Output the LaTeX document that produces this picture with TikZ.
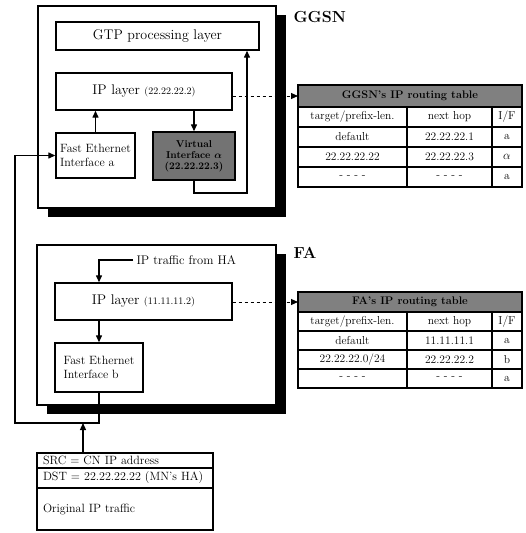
\documentclass[tikz,border=0pt]{standalone}
\usepackage{amsmath,amssymb}
\usepackage{xcolor}
\usetikzlibrary{positioning, arrows.meta, calc, shadows}

\begin{document}
\begin{tikzpicture}[x=1pt, y=-1pt,
    every node/.style={font=\fontsize{12.5}{14}\selectfont},
    frame/.style={rectangle, draw, line width=1.5pt, fill=white,
        drop shadow={shadow xshift=10pt, shadow yshift=-9pt, fill=black, opacity=1}},
    layer/.style={rectangle, draw, line width=1.4pt, fill=white, align=center, inner sep=2pt, font=\fontsize{14}{16}\selectfont},
    iface/.style={layer, align=left, font=\fontsize{12}{13.5}\selectfont},
    virt/.style={layer, fill=black!55, font=\bfseries\fontsize{10}{11}\selectfont},
    tag/.style={font=\bfseries\fontsize{16}{18}\selectfont, anchor=west},
    cell/.style={rectangle, draw, line width=1.2pt, outer sep=0pt, inner sep=1pt, minimum height=20pt, font=\fontsize{11.5}{13}\selectfont},
    thead/.style={cell, fill=black!50, minimum width=224pt, minimum height=22pt, font=\bfseries\fontsize{11}{13}\selectfont},
    colA/.style={cell, minimum width=109pt},
    colB/.style={cell, minimum width=85pt},
    colC/.style={cell, minimum width=30pt},
    pcell/.style={cell, minimum width=176pt, text width=164pt, inner xsep=6pt, align=left, font=\fontsize{12}{13}\selectfont},
    arr/.style={-{Triangle[length=7pt, width=6pt]}, line width=1.3pt},
    tablearr/.style={-{Triangle[length=7pt, width=6pt]}, dashed, line width=1pt},
]
\useasboundingbox (0,0) rectangle (525,533);

% GGSN box
\node[frame, minimum width=238pt, minimum height=202pt] (gframe) at (157,107) {};
\node[tag] (glabel) at (290,17) {GGSN};
\node[layer, minimum width=203pt, minimum height=28pt] (gtp) at (157.5,36) {GTP processing layer};
\node[layer, minimum width=176pt, minimum height=37pt] (gip) at (144,91.5) {IP layer {\fontsize{10}{12}\selectfont(22.22.22.2)}};
\node[iface, minimum width=79pt, minimum height=45pt] (gfe) at (95.5,155.5) {Fast Ethernet\\Interface a};
\node[virt, minimum width=82pt, minimum height=48pt] (gvi) at (194,156) {Virtual\\Interface $\boldsymbol{\alpha}$\\(22.22.22.3)};

% FA box
\node[frame, minimum width=239pt, minimum height=160pt] (fframe) at (156.5,325) {};
\node[tag] (flabel) at (290,253) {FA};
\node[anchor=west] (hatxt) at (133,260) {IP traffic from HA};
\node[layer, minimum width=177pt, minimum height=37pt] (fip) at (143.5,301.5) {IP layer {\fontsize{10}{12}\selectfont(11.11.11.2)}};
\node[iface, minimum width=88pt, minimum height=49pt] (ffe) at (99,367.5) {Fast Ethernet\\Interface b};

% GGSN routing table
\node[thead] (ghead) at (410,96) {GGSN's IP routing table};
\node[colA, anchor=north west] (g1a) at (ghead.south west) {target/prefix-len.};
\node[colB, right=0pt of g1a] (g1b) {next hop};
\node[colC, right=0pt of g1b] (g1c) {I/F};
\node[colA, below=0pt of g1a] (g2a) {default};
\node[colB, right=0pt of g2a] (g2b) {22.22.22.1};
\node[colC, right=0pt of g2b] (g2c) {a};
\node[colA, below=0pt of g2a] (g3a) {22.22.22.22};
\node[colB, right=0pt of g3a] (g3b) {22.22.22.3};
\node[colC, right=0pt of g3b] (g3c) {$\alpha$};
\node[colA, below=0pt of g3a] (g4a) {- - - -};
\node[colB, right=0pt of g4a] (g4b) {- - - -};
\node[colC, right=0pt of g4b] (g4c) {a};

% FA routing table
\node[thead, minimum height=20pt] (fhead) at (410,302) {FA's IP routing table};
\node[colA, anchor=north west, minimum height=19pt] (f1a) at (fhead.south west) {target/prefix-len.};
\node[colB, right=0pt of f1a, minimum height=19pt] (f1b) {next hop};
\node[colC, right=0pt of f1b, minimum height=19pt] (f1c) {I/F};
\node[colA, below=0pt of f1a, minimum height=19pt] (f2a) {default};
\node[colB, right=0pt of f2a, minimum height=19pt] (f2b) {11.11.11.1};
\node[colC, right=0pt of f2b, minimum height=19pt] (f2c) {a};
\node[colA, below=0pt of f2a, minimum height=19pt] (f3a) {22.22.22.0/24};
\node[colB, right=0pt of f3a, minimum height=19pt] (f3b) {22.22.22.2};
\node[colC, right=0pt of f3b, minimum height=19pt] (f3c) {b};
\node[colA, below=0pt of f3a, minimum height=19pt] (f4a) {- - - -};
\node[colB, right=0pt of f4a, minimum height=19pt] (f4b) {- - - -};
\node[colC, right=0pt of f4b, minimum height=19pt] (f4c) {a};

% tunnelled packet
\node[pcell, minimum height=15pt] (src) at (125,460.5) {SRC = CN IP address};
\node[pcell, below=0pt of src] (dst) {DST = 22.22.22.22 (MN's HA)};
\node[pcell, below=0pt of dst, minimum height=42pt] (orig) {Original IP traffic};

% GGSN internal arrows
\coordinate (gturn) at (247,193);
\draw[arr] (gfe.north) -- (gfe.north |- gip.south);
\draw[arr] (gvi.north |- gip.south) -- (gvi.north);
\draw[arr] (gvi.south) |- (gturn) -- (gturn |- gtp.south);

% FA internal arrows
\draw[arr] (hatxt.west) -| (ffe.north |- fip.north);
\draw[arr] (ffe.north |- fip.south) -- (ffe.north);

% FA -> GGSN link
\coordinate (lcorner) at (15,423);
\coordinate (ptap) at (83,423);
\draw[arr] (ffe.south) |- (lcorner) |- (gfe.west);
\draw[arr] (src.north -| ptap) -- (ptap);

% routing table lookups
\draw[tablearr] (gip.east |- ghead.west) -- (ghead.west);
\draw[tablearr] (fip.east |- fhead.west) -- (fhead.west);

\end{tikzpicture}
\end{document}
